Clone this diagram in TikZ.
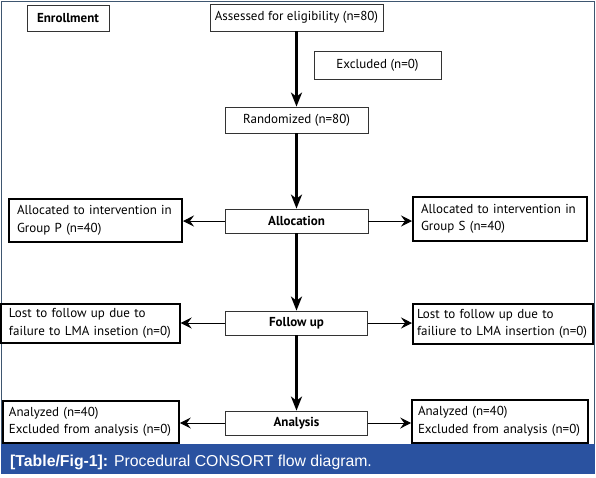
\documentclass[tikz,border=0pt]{standalone}
\usepackage{fontspec}
\setmainfont{PT Sans}
\newfontfamily\capfont{Liberation Sans}
\usepackage{xcolor}
\usepackage{tikz}
\usetikzlibrary{arrows.meta}

\definecolor{framegray}{HTML}{3E5670}
\definecolor{bandblue}{HTML}{2A52A0}

\begin{document}
\begin{tikzpicture}[
  x=1pt, y=-1pt,
  box/.style={
    rectangle,
    draw=black!80,
    line width=0.8pt,
    fill=white,
    inner sep=0pt,
    align=center,
    font=\fontsize{13}{16}\selectfont
  },
  stage/.style={box, font=\fontsize{13}{16}\selectfont\bfseries},
  sidebox/.style={
    rectangle,
    draw=black,
    line width=1.6pt,
    fill=white,
    inner xsep=8pt,
    inner ysep=0pt,
    align=left,
    font=\fontsize{13}{17.5}\selectfont
  },
  mainarrow/.style={-{Stealth[length=14pt, width=11pt, inset=4pt]}, line width=2.4pt},
  sidearrow/.style={-{Stealth[length=11pt, width=11pt, inset=4pt]}, line width=0.9pt}
]

  \useasboundingbox (0,0) rectangle (596,477);
  \draw [framegray, line width=0.8pt] (1,1) rectangle (594.5,445);
  \fill [bandblue] (1,444) rectangle (594.5,474);

  % Nodes
  \node (enroll) [stage, minimum width=82pt, minimum height=26pt] at (68,18) {Enrollment};
  \node (assess) [box, minimum width=173pt, minimum height=27pt] at (296.5,17.5) {Assessed for eligibility (n=80)};
  \node (excl)   [box, minimum width=127pt, minimum height=28pt] at (377.5,65) {Excluded (n=0)};
  \node (random) [box, minimum width=143pt, minimum height=26pt] at (296.5,120) {Randomized (n=80)};

  \node (alloc)  [stage, minimum width=143pt, minimum height=24pt] at (296.5,221) {Allocation};
  \node (allocP) [sidebox, line width=2pt, text width=157pt, minimum height=43pt] at (95.5,220.5)
    {Allocated to intervention in\\Group P (n=40)};
  \node (allocS) [sidebox, line width=2pt, text width=158pt, minimum height=44pt] at (500,219)
    {Allocated to intervention in\\Group S (n=40)};

  \node (follow) [stage, minimum width=142pt, minimum height=24pt] at (296.5,323) {Follow up};
  \node (lostP)  [sidebox, line width=1.4pt, text width=163pt, minimum height=39pt] at (90.5,323.5)
    {Lost to follow up due to\\failure to LMA insetion (n=0)};
  \node (lostS)  [sidebox, line width=2pt, inner xsep=4pt, text width=172pt, minimum height=40pt] at (503,324)
    {Lost to follow up due to\\failiure to LMA insertion (n=0)};

  \node (anal)   [stage, minimum width=142pt, minimum height=24pt] at (296.5,423) {Analysis};
  \node (anaP)   [sidebox, inner xsep=6pt, text width=164pt, minimum height=42pt] at (91,422)
    {Analyzed (n=40)\\Excluded from analysis (n=0)};
  \node (anaS)   [sidebox, inner xsep=6pt, text width=164pt, minimum height=43pt] at (500,421.5)
    {Analyzed (n=40)\\Excluded from analysis (n=0)};

  \node (cap) [anchor=base west, inner sep=0pt, text=white,
    font=\capfont\fontsize{15.8}{18}\selectfont] at (10,466.5)
    {\textbf{[Table/Fig-1]:} Procedural CONSORT flow diagram.};

  % Arrows
  \draw [mainarrow] (assess) -- (random);
  \draw [mainarrow] (random) -- (alloc);
  \draw [mainarrow] (alloc) -- (follow);
  \draw [mainarrow] (follow) -- (anal);
  \draw [sidearrow] (alloc.west) -- (alloc.west -| allocP.east);
  \draw [sidearrow] (alloc.east) -- (alloc.east -| allocS.west);
  \draw [sidearrow] (follow.west) -- (follow.west -| lostP.east);
  \draw [sidearrow] (follow.east) -- (follow.east -| lostS.west);
  \draw [sidearrow] (anal.west) -- (anal.west -| anaP.east);
  \draw [sidearrow] (anal.east) -- (anal.east -| anaS.west);

\end{tikzpicture}
\end{document}
